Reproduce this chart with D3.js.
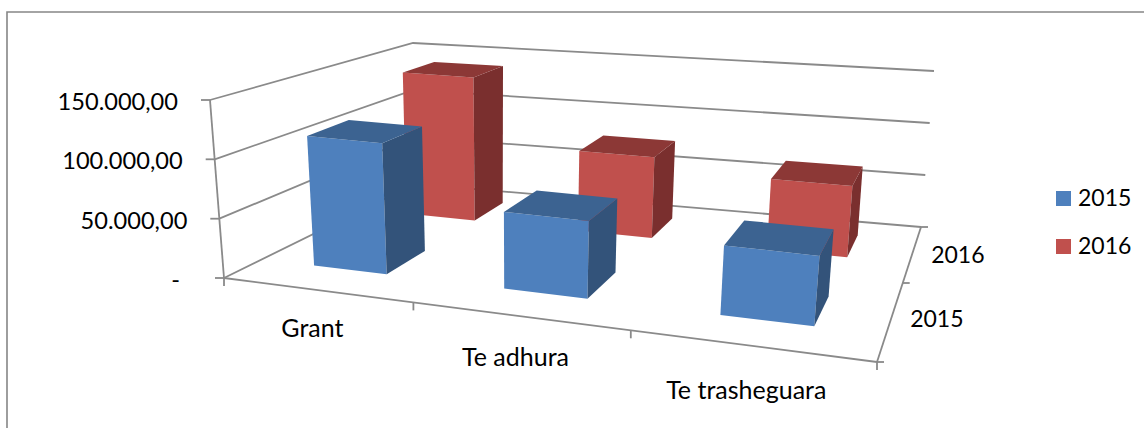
<!DOCTYPE html>
<html>
<head>
<meta charset="utf-8">
<script src="https://cdn.jsdelivr.net/npm/d3@7/dist/d3.min.js"></script>
<style>
html,body{margin:0;padding:0;background:#fff;overflow:hidden}
text{font-family:Lato,"Open Sans",sans-serif;fill:#000}
</style>
</head>
<body>
<svg id="chart" width="1144" height="428"></svg>
<script>
// ---- data ----
const categories = ["Grant", "Te adhura", "Te trasheguara"];
const seriesNames = ["2015", "2016"];
const values2015 = [113000, 65000, 57000];
const values2016 = [139000, 76000, 65000];
const valueTicks = [0, 50000, 100000, 150000];

// ---- styling ----
const colors = {
  "2015": {front: "#4e80bd", top: "#3c6391", side: "#33537a"},
  "2016": {front: "#c0504d", top: "#8c3836", side: "#7a2f2e"}
};
const axisColor = "#8a8a8a";

// ---- the 3D cage: projected corners of the plot box ----
const cage = {
  floor: {fl: [224, 278], fr: [877, 362], bl: [415, 184], br: [921, 227]},
  top:   {fl: [210, 100], fr: [895, 167], bl: [413, 43],  br: [934, 71]}
};
const lerp = (a, b, t) => [a[0] + (b[0] - a[0]) * t, a[1] + (b[1] - a[1]) * t];

// scales: category position -> width fraction (front and back edge of the box differ by perspective),
// series position -> depth fraction, value -> height fraction
const uKnots = [0, 0.3, 0.7, 1, 1.3, 1.7, 2, 2.3, 2.7, 3];
const uFront = d3.scaleLinear().domain(uKnots).range([0, 0.085, 0.198, 0.29, 0.386, 0.519, 0.623, 0.733, 0.885, 1]);
const uBack = d3.scaleLinear().domain(uKnots).range([0, 0.076, 0.206, 0.29, 0.396, 0.532, 0.623, 0.742, 0.887, 1]);
const dScale = d3.scaleLinear().domain([0, 0.3, 0.7, 1, 1.3, 1.7, 2]).range([0, 0.2, 0.43, 0.585, 0.73, 0.9, 1]);
const vScale = d3.scaleLinear().domain([0, 150000]).range([0, 1]);

function project(cat, ser, val) {
  const d = dScale(ser), v = vScale(val);
  const u = uFront(cat) + (uBack(cat) - uFront(cat)) * d;
  const plane = c => lerp(lerp(c.fl, c.fr, u), lerp(c.bl, c.br, u), d);
  return lerp(plane(cage.floor), plane(cage.top), v);
}

const svg = d3.select("#chart");
const pathOf = pts => "M" + pts.map(p => p.map(n => n.toFixed(1)).join(",")).join("L") + "Z";
const lineOf = pts => "M" + pts.map(p => p.map(n => n.toFixed(1)).join(",")).join("L");

// outer frame: only the left and top edges are inside the picture
svg.append("path").attr("d", "M7,428V12H1144")
  .attr("fill", "none").attr("stroke", "#868686").attr("stroke-width", 1.6);

const axisG = svg.append("g").attr("fill", "none").attr("stroke", axisColor).attr("stroke-width", 1.8);

// gridlines along left wall and back wall
axisG.selectAll("path.grid").data(valueTicks).join("path").attr("class", "grid")
  .attr("d", v => lineOf([project(0, 0, v), project(0, 2, v), project(3, 2, v)]));
// value axis and its ticks
axisG.append("path").attr("d", lineOf([project(0, 0, 0), project(0, 0, 150000)]));
axisG.selectAll("path.vt").data(valueTicks).join("path").attr("class", "vt")
  .attr("d", v => { const p = project(0, 0, v); return lineOf([[p[0] - 9, p[1]], p]); });
// category axis
axisG.append("path").attr("d", lineOf([project(0, 0, 0), project(3, 0, 0)]));
axisG.selectAll("path.ct").data(d3.range(categories.length + 1)).join("path").attr("class", "ct")
  .attr("d", c => { const p = project(c, 0, 0); return lineOf([p, [p[0], p[1] + 8]]); });
// series (depth) axis
axisG.append("path").attr("d", lineOf([project(3, 0, 0), project(3, 2, 0)]));
axisG.selectAll("path.st").data(d3.range(seriesNames.length + 1)).join("path").attr("class", "st")
  .attr("d", s => { const p = project(3, s, 0); return lineOf([p, [p[0] + 7, p[1]]]); });

// bars: back series first
const seriesValues = {"2015": values2015, "2016": values2016};
const order = [1, 0];
const barPad = 0.3;
order.forEach(si => {
  const name = seriesNames[si];
  const g = svg.append("g").attr("class", "series-" + name);
  seriesValues[name].forEach((val, ci) => {
    const x0 = ci + barPad, x1 = ci + 1 - barPad, d0 = si + barPad, d1 = si + 1 - barPad;
    const c = colors[name];
    const faces = [
      {fill: c.front, pts: [project(x0, d0, 0), project(x1, d0, 0), project(x1, d0, val), project(x0, d0, val)]},
      {fill: c.side,  pts: [project(x1, d0, 0), project(x1, d1, 0), project(x1, d1, val), project(x1, d0, val)]},
      {fill: c.top,   pts: [project(x0, d0, val), project(x1, d0, val), project(x1, d1, val), project(x0, d1, val)]}
    ];
    g.selectAll(null).data(faces).join("path")
      .attr("d", f => pathOf(f.pts)).attr("fill", d => d.fill);
  });
});

// text
const fmt = d3.formatLocale({decimal: ",", thousands: ".", grouping: [3]}).format(",.2f");
svg.selectAll("text.val").data(valueTicks).join("text").attr("class", "val")
  .attr("x", v => project(0, 0, v)[0] - (v === 0 ? 44 : 32))
  .attr("y", v => project(0, 0, v)[1] + 10)
  .attr("text-anchor", "end").attr("font-size", 23.6)
  .text(v => v === 0 ? "-" : fmt(v));

const catDx = [-4, -4, -6], catDy = [47, 50, 53];
svg.selectAll("text.cat").data(categories).join("text").attr("class", "cat")
  .attr("x", (c, i) => project(i + 0.5, 0, 0)[0] + catDx[i])
  .attr("y", (c, i) => project(i + 0.5, 0, 0)[1] + catDy[i])
  .attr("text-anchor", "middle").attr("font-size", 25)
  .text(c => c);

const serDx = [46, 45], serDy = [5, 8];
svg.selectAll("text.ser").data(seriesNames).join("text").attr("class", "ser")
  .attr("x", (s, i) => project(3, i + 0.5, 0)[0] + serDx[i])
  .attr("y", (s, i) => project(3, i + 0.5, 0)[1] + serDy[i] + 3)
  .attr("text-anchor", "middle").attr("font-size", 23)
  .text(s => s);

// legend
const legendY = d3.scalePoint().domain(seriesNames).range([191, 239]);
const leg = svg.selectAll("g.leg").data(seriesNames).join("g").attr("class", "leg")
  .attr("transform", s => `translate(1056,${legendY(s)})`);
leg.append("rect").attr("width", 15).attr("height", 15).attr("fill", s => colors[s].front);
leg.append("text").attr("x", 22).attr("y", 15).attr("font-size", 23).text(s => s);
</script>
</body>
</html>
